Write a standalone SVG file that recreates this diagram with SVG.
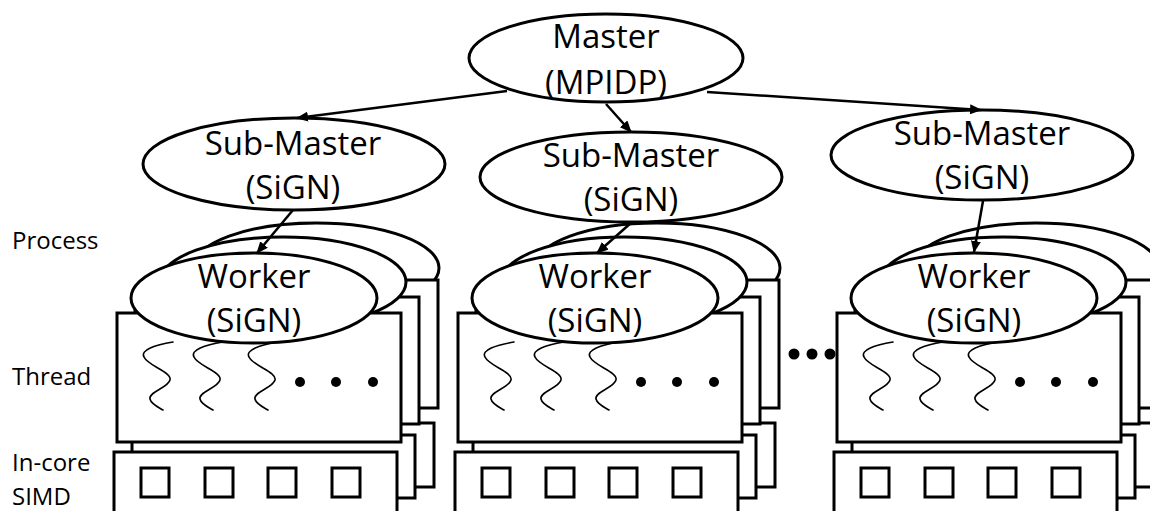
<svg xmlns="http://www.w3.org/2000/svg" xmlns:xlink="http://www.w3.org/1999/xlink" width="1150" height="511" viewBox="0 0 1150 511">
  <style>
    .shape { fill: #ffffff; stroke: #000000; stroke-width: 3; }
    .core { fill: #ffffff; stroke: #000000; stroke-width: 3; }
    .wave { fill: none; stroke: #000000; stroke-width: 1.6; stroke-linecap: round; }
    .dot { fill: #000000; }
    .edge { fill: none; stroke: #000000; stroke-width: 2.5; }
    .label { font-family: "Open Sans", "Liberation Sans", sans-serif; font-size: 33px; fill: #000000; text-anchor: middle; }
    .side { font-family: "Open Sans", "Liberation Sans", sans-serif; font-size: 24px; fill: #000000; }
  </style>
  <defs>
    <marker id="arrow" viewBox="0 0 12 10" refX="11" refY="5" markerWidth="12" markerHeight="10" markerUnits="userSpaceOnUse" orient="auto">
      <path d="M0,0 L12,5 L0,10 Z" fill="#000000"/>
    </marker>
    <!-- one thread wave, top end at the origin -->
    <path id="wave" class="wave" d="M0,0 C-18,3 -33,8 -29,15 C-25,24 -1,30 -3,38 C-5,46 -25,50 -23,57 C-22,62 -15,65 -10,68"/>
    <!-- a stack of three worker processes, each with a thread box and a SIMD box -->
    <g id="worker-stack">
      <!-- back process -->
      <ellipse class="shape" cx="316" cy="268" rx="123" ry="45"/>
      <rect class="shape" x="154" y="280" width="284" height="128"/>
      <rect class="shape" x="151" y="423" width="283" height="64"/>
      <!-- middle process -->
      <rect class="shape" x="135" y="297" width="284" height="127"/>
      <rect class="shape" x="132" y="435" width="283" height="63"/>
      <ellipse class="shape" cx="283" cy="282" rx="123" ry="45"/>
      <!-- front process: threads -->
      <rect class="shape" x="117" y="313" width="284" height="129"/>
      <use xlink:href="#wave" transform="translate(173,342)"/>
      <use xlink:href="#wave" transform="translate(223,342)"/>
      <use xlink:href="#wave" transform="translate(278,342)"/>
      <circle class="dot" cx="300" cy="382" r="5"/>
      <circle class="dot" cx="336" cy="382" r="5"/>
      <circle class="dot" cx="373" cy="382" r="5"/>
      <!-- front process: SIMD lanes -->
      <rect class="shape" x="114" y="452" width="283" height="70"/>
      <rect class="core" x="141" y="468" width="28" height="29"/>
      <rect class="core" x="205" y="468" width="28" height="29"/>
      <rect class="core" x="268" y="468" width="28" height="29"/>
      <rect class="core" x="332" y="468" width="28" height="29"/>
      <!-- front process: worker -->
      <ellipse class="shape" cx="254" cy="298" rx="123" ry="45"/>
    </g>
  </defs>

  <rect width="1150" height="511" fill="#ffffff"/>

  <!-- level labels -->
  <g id="levels">
    <text class="side" x="12" y="249">Process</text>
    <text class="side" x="12" y="385">Thread</text>
    <text class="side" x="12" y="471">In-core</text>
    <text class="side" x="12" y="505">SIMD</text>
  </g>

  <!-- worker stacks -->
  <g id="worker-1">
    <use xlink:href="#worker-stack"/>
    <text class="label" x="254" y="288">Worker</text>
    <text class="label" x="254" y="332">(SiGN)</text>
  </g>
  <g id="worker-2">
    <use xlink:href="#worker-stack" transform="translate(341,0)"/>
    <text class="label" x="595" y="288">Worker</text>
    <text class="label" x="595" y="332">(SiGN)</text>
  </g>
  <g id="worker-3">
    <use xlink:href="#worker-stack" transform="translate(720,0)"/>
    <text class="label" x="974" y="288">Worker</text>
    <text class="label" x="974" y="332">(SiGN)</text>
  </g>

  <!-- more stacks in between -->
  <g id="ellipsis">
    <circle class="dot" cx="794" cy="354" r="5.5"/>
    <circle class="dot" cx="812" cy="354" r="5.5"/>
    <circle class="dot" cx="830" cy="354" r="5.5"/>
  </g>

  <!-- sub-masters -->
  <g id="sub-master-1">
    <ellipse class="shape" cx="294" cy="164" rx="151" ry="46"/>
    <text class="label" x="293" y="155">Sub-Master</text>
    <text class="label" x="293" y="199">(SiGN)</text>
  </g>
  <g id="sub-master-2">
    <ellipse class="shape" cx="631" cy="177" rx="151" ry="45"/>
    <text class="label" x="631" y="167">Sub-Master</text>
    <text class="label" x="631" y="211">(SiGN)</text>
  </g>
  <g id="sub-master-3">
    <ellipse class="shape" cx="982" cy="155" rx="151" ry="45"/>
    <text class="label" x="982" y="145">Sub-Master</text>
    <text class="label" x="982" y="189">(SiGN)</text>
  </g>

  <!-- master -->
  <g id="master">
    <ellipse class="shape" cx="606" cy="58" rx="137" ry="44"/>
    <text class="label" x="606" y="48">Master</text>
    <text class="label" x="606" y="94">(MPIDP)</text>
  </g>

  <!-- connectors -->
  <g id="connectors">
    <line class="edge" x1="507" y1="91" x2="297" y2="118" marker-end="url(#arrow)"/>
    <line class="edge" x1="606" y1="104" x2="631" y2="132" marker-end="url(#arrow)"/>
    <line class="edge" x1="707" y1="92" x2="981" y2="110" marker-end="url(#arrow)"/>
    <line class="edge" x1="293" y1="210" x2="257" y2="253" marker-end="url(#arrow)"/>
    <line class="edge" x1="632" y1="222" x2="597" y2="253" marker-end="url(#arrow)"/>
    <line class="edge" x1="983" y1="201" x2="974" y2="252" marker-end="url(#arrow)"/>
  </g>
</svg>
